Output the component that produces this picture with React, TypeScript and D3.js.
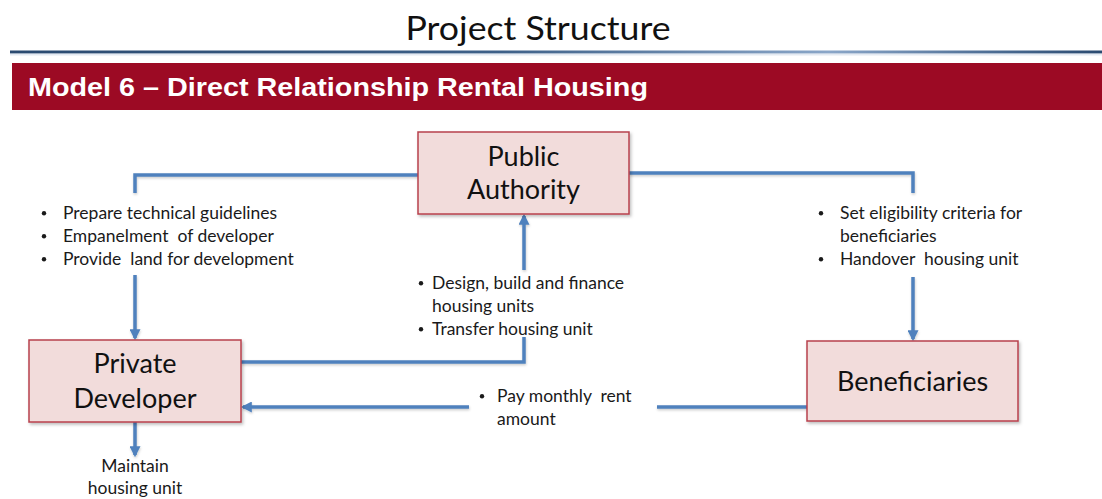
import React from "react";
import * as d3 from "d3";

// ---------- content ----------
const pageTitle = "Project Structure";
const bannerTitle = "Model 6 – Direct Relationship Rental Housing";
const authorityLabel = ["Public", "Authority"];
const developerLabel = ["Private", "Developer"];
const beneficiaryLabel = ["Beneficiaries"];
const authorityToDeveloper = [
  "Prepare technical guidelines",
  "Empanelment  of developer",
  "Provide  land for development",
];
const developerToAuthority = [
  ["Design, build and finance", "housing units"],
  ["Transfer housing unit"],
];
const authorityToBeneficiary = [
  ["Set eligibility criteria for", "beneficiaries"],
  ["Handover  housing unit"],
];
const beneficiaryToDeveloper = [["Pay monthly  rent", "amount"]];
const developerOwnTask = ["Maintain", "housing unit"];

// ---------- layout ----------
const W = 1102;
const H = 499;
const LINE = "#4f81bd";
const FONT = "Lato, 'Open Sans', sans-serif";
const SMALL = 17.5;

const boxes = {
  pa: { x: 418, y: 132, w: 211, h: 82 },
  pd: { x: 29, y: 340, w: 212, h: 82 },
  bn: { x: 807, y: 341, w: 211, h: 80 },
};

type Pt = [number, number];
const lineGen = d3.line<Pt>().x((d) => d[0]).y((d) => d[1]);

const plainSegs: Pt[][] = [
  [[418, 175], [135, 175], [135, 193]],
  [[629, 173], [913, 173], [913, 193]],
  [[241, 362], [524, 362], [524, 337]],
  [[807, 407], [657, 407]],
];
const arrowSegs: Pt[][] = [
  [[135, 275], [135, 338]],
  [[913, 277], [913, 339]],
  [[524, 270], [524, 216]],
  [[469, 407], [243, 407]],
  [[135, 422], [135, 455]],
];

function BulletBlock({
  items,
  bx,
  tx,
  y0,
  dy,
  size,
}: {
  items: string[][];
  bx: number;
  tx: number;
  y0: number;
  dy: number;
  size: number;
}) {
  const rows: { bullet: boolean; text: string }[] = [];
  items.forEach((it) => it.forEach((t, i) => rows.push({ bullet: i === 0, text: t })));
  return (
    <g fontFamily={FONT} fontSize={size} fill="#1a1a1a">
      {rows.map((r, i) => (
        <g key={i}>
          {r.bullet && (
            <circle cx={bx} cy={y0 + i * dy - size * 0.3} r={2.2} fill="#1a1a1a" />
          )}
          <text x={tx} y={y0 + i * dy} style={{ whiteSpace: "pre" }}>
            {r.text}
          </text>
        </g>
      ))}
    </g>
  );
}

function Box({ b, lines, size, gap }: { b: { x: number; y: number; w: number; h: number }; lines: string[]; size: number; gap: number }) {
  const cx = b.x + b.w / 2;
  const cy = b.y + b.h / 2;
  const start = cy - ((lines.length - 1) * gap) / 2 + size * 0.36;
  return (
    <g>
      <rect x={b.x} y={b.y} width={b.w} height={b.h} fill="#f2dcdb" stroke="#b8404c" strokeWidth={1.5} filter="url(#shadow)" />
      {lines.map((l, i) => (
        <text key={i} x={cx} y={start + i * gap} textAnchor="middle" fontFamily={FONT} fontSize={size} fill="#111">
          {l}
        </text>
      ))}
    </g>
  );
}

export default function App() {
  return (
    <svg width={W} height={H} style={{ position: "absolute", left: 0, top: 0, background: "#fff" }}>
      <defs>
        <linearGradient id="rule" x1="0" x2="1" y1="0" y2="0">
          <stop offset="0" stopColor="#2a4a70" />
          <stop offset="0.45" stopColor="#3e6189" />
          <stop offset="0.75" stopColor="#8aa6c8" />
          <stop offset="0.9" stopColor="#4c6d94" />
          <stop offset="1" stopColor="#2a4a70" />
        </linearGradient>
        <marker id="arrow" viewBox="0 0 10 10" refX="8" refY="5" markerWidth="11" markerHeight="11" markerUnits="userSpaceOnUse" orient="auto">
          <path d="M0,0 L10,5 L0,10 z" fill={LINE} />
        </marker>
        <filter id="shadow" x="-5%" y="-5%" width="115%" height="120%">
          <feDropShadow dx="1.5" dy="2" stdDeviation="1.5" floodColor="#000" floodOpacity="0.25" />
        </filter>
        <filter id="lshadow" x="-5%" y="-5%" width="115%" height="120%">
          <feDropShadow dx="0.5" dy="1.5" stdDeviation="1" floodColor="#000" floodOpacity="0.2" />
        </filter>
      </defs>

      <text x={538} y={40} textAnchor="middle" fontFamily={FONT} fontSize={32} fill="#111" textLength={265} lengthAdjust="spacingAndGlyphs">
        {pageTitle}
      </text>
      <rect x={10} y={50.5} width={W - 10} height={3} fill="url(#rule)" />
      <rect x={10} y={53.5} width={W - 10} height={2} fill="#c9d6e6" opacity={0.5} />

      <rect x={12} y={63} width={W - 12} height={47} fill="#9c0a24" />
      <text x={28} y={96} fontFamily="'Liberation Sans', Arial, sans-serif" fontWeight="bold" fontSize={26} fill="#fff" textLength={620} lengthAdjust="spacingAndGlyphs">
        {bannerTitle}
      </text>

      <g fill="none" stroke={LINE} strokeWidth={3.5} filter="url(#lshadow)">
        {plainSegs.map((s, i) => (
          <path key={"p" + i} d={lineGen(s) ?? ""} />
        ))}
        {arrowSegs.map((s, i) => (
          <path key={"a" + i} d={lineGen(s) ?? ""} markerEnd="url(#arrow)" />
        ))}
      </g>

      <Box b={boxes.pa} lines={authorityLabel} size={27} gap={33} />
      <Box b={boxes.pd} lines={developerLabel} size={27} gap={35} />
      <Box b={boxes.bn} lines={beneficiaryLabel} size={27} gap={0} />

      <BulletBlock items={authorityToDeveloper.map((t) => [t])} bx={44} tx={63} y0={218.5} dy={23} size={SMALL} />
      <BulletBlock items={developerToAuthority} bx={421} tx={432} y0={288.5} dy={23} size={SMALL} />
      <BulletBlock items={authorityToBeneficiary} bx={821} tx={840} y0={218.5} dy={23} size={SMALL} />
      <BulletBlock items={beneficiaryToDeveloper} bx={482} tx={497} y0={401.5} dy={23} size={SMALL} />

      <g fontFamily={FONT} fontSize={SMALL} fill="#1a1a1a" textAnchor="middle">
        {developerOwnTask.map((t, i) => (
          <text key={i} x={135} y={472 + i * 22}>
            {t}
          </text>
        ))}
      </g>
    </svg>
  );
}
